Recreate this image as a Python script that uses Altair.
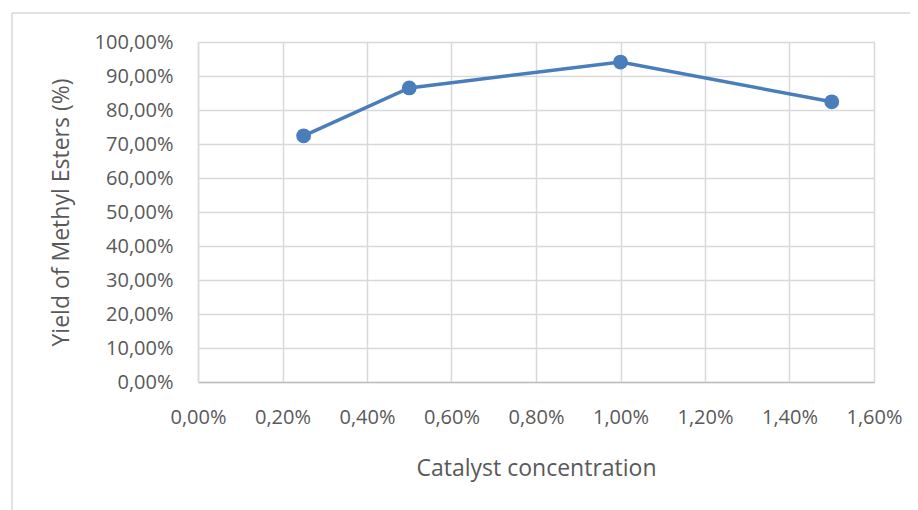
import altair as alt
import pandas as pd

catalyst = [0.25, 0.50, 1.00, 1.50]
yield_pct = [72.4, 86.5, 94.1, 82.4]

x_ticks = [0.0, 0.2, 0.4, 0.6, 0.8, 1.0, 1.2, 1.4, 1.6]
y_ticks = [0, 10, 20, 30, 40, 50, 60, 70, 80, 90, 100]

df = pd.DataFrame({"catalyst": catalyst, "yield": yield_pct})

FONT = "Open Sans"
TXT = "#595959"
BLUE = "#4a7ebb"

lbl = "replace(format(datum.value, '.2f'), '.', ',') + '%'"

base = alt.Chart(df).encode(
    x=alt.X("catalyst:Q",
            scale=alt.Scale(domain=[0, 1.6], nice=False, zero=False),
            axis=alt.Axis(values=x_ticks, labelExpr=lbl, title="Catalyst concentration",
                          ticks=False, labelPadding=25, titlePadding=30,
                          domainColor="#bfbfbf", gridColor="#d9d9d9",
                          labelFlush=False)),
    y=alt.Y("yield:Q",
            scale=alt.Scale(domain=[0, 100], nice=False),
            axis=alt.Axis(values=y_ticks, labelExpr=lbl, title="Yield of Methyl Esters (%)",
                          ticks=False, labelPadding=25, titlePadding=21,
                          domainColor="#d9d9d9", gridColor="#d9d9d9")),
)

line = base.mark_line(color=BLUE, strokeWidth=3.5)
pts = base.mark_point(filled=True, color=BLUE, size=220, opacity=1)

frame_df = pd.DataFrame({"a": [0]})
top_rule = alt.Chart(frame_df).mark_rule(color="#d9d9d9", strokeWidth=1.5).encode(
    x=alt.value(-186), x2=alt.value(720), y=alt.value(-29))
left_rule = alt.Chart(frame_df).mark_rule(color="#d9d9d9", strokeWidth=1.5).encode(
    x=alt.value(-186), y=alt.value(-29), y2=alt.value(470))

chart = alt.layer(top_rule, left_rule, line, pts).properties(
    width=676, height=340,
    autosize=alt.AutoSizeParams(type="none"),
    padding={"left": 190, "top": 34, "right": 36, "bottom": 128},
).configure_view(stroke="#d9d9d9").configure_axis(
    labelFont=FONT, titleFont=FONT, labelFontSize=20, titleFontSize=23,
    labelColor=TXT, titleColor=TXT, titleFontWeight="normal",
    gridWidth=1.5, domainWidth=1.5,
)

chart.save("out.html", embed_options={"renderer": "svg", "actions": False})
